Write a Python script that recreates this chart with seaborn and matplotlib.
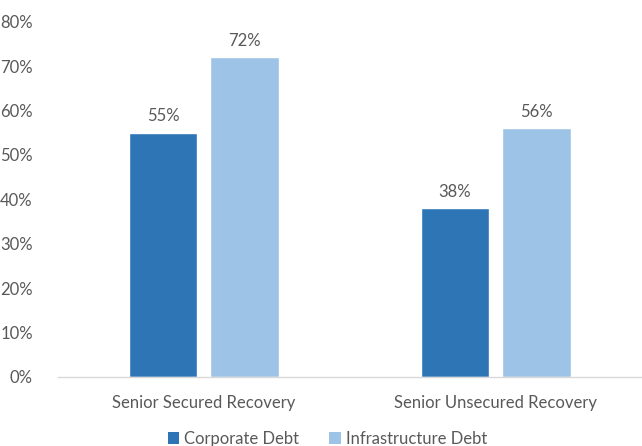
import pandas as pd
import matplotlib.pyplot as plt
import seaborn as sns
from matplotlib.ticker import PercentFormatter
from matplotlib.patches import Patch

# Chart data
categories = ["Senior Secured Recovery", "Senior Unsecured Recovery"]
series = ["Corporate Debt", "Infrastructure Debt"]
corporate = [55, 38]
infrastructure = [72, 56]

df = pd.DataFrame({
    "Category": categories * 2,
    "Series": [series[0]] * 2 + [series[1]] * 2,
    "Value": corporate + infrastructure,
})

sns.set_theme(style="white")
plt.rcParams['font.family'] = ['Lato', 'DejaVu Sans']
text_color = "#595959"
colors = ["#2E75B6", "#9DC3E6"]
fs = 12

fig = plt.figure(figsize=(6.42, 4.46), dpi=100)
ax = fig.add_axes([0.09, 0.155, 0.91, 0.796])

sns.barplot(data=df, x="Category", y="Value", hue="Series", palette=colors,
            width=0.56, gap=0.16, ax=ax, legend=False, saturation=1)

# Value labels above bars
for cont in ax.containers:
    ax.bar_label(cont, fmt="%d%%", padding=6, fontsize=fs, color=text_color)

ax.set_ylim(0, 80)
ax.set_yticks(range(0, 81, 10))
ax.yaxis.set_major_formatter(PercentFormatter(decimals=0))
ax.set_xlim(-0.5, 1.5)
ax.set_xlabel("")
ax.set_ylabel("")
ax.tick_params(axis="both", length=0, labelsize=fs, colors=text_color)
ax.tick_params(axis="y", pad=18)
ax.tick_params(axis="x", pad=13)

for side in ["top", "right", "left"]:
    ax.spines[side].set_visible(False)
ax.spines["bottom"].set_color("#D9D9D9")
ax.spines["bottom"].set_linewidth(1)

handles = [Patch(facecolor=c, edgecolor="none") for c in colors]
fig.legend(handles, series, loc="lower center", bbox_to_anchor=(0.51, -0.035),
           ncol=2, frameon=False, fontsize=fs, labelcolor=text_color,
           handlelength=0.7, handleheight=0.7, handletextpad=0.3, columnspacing=1.8)

fig.savefig("out.png", dpi=100)
